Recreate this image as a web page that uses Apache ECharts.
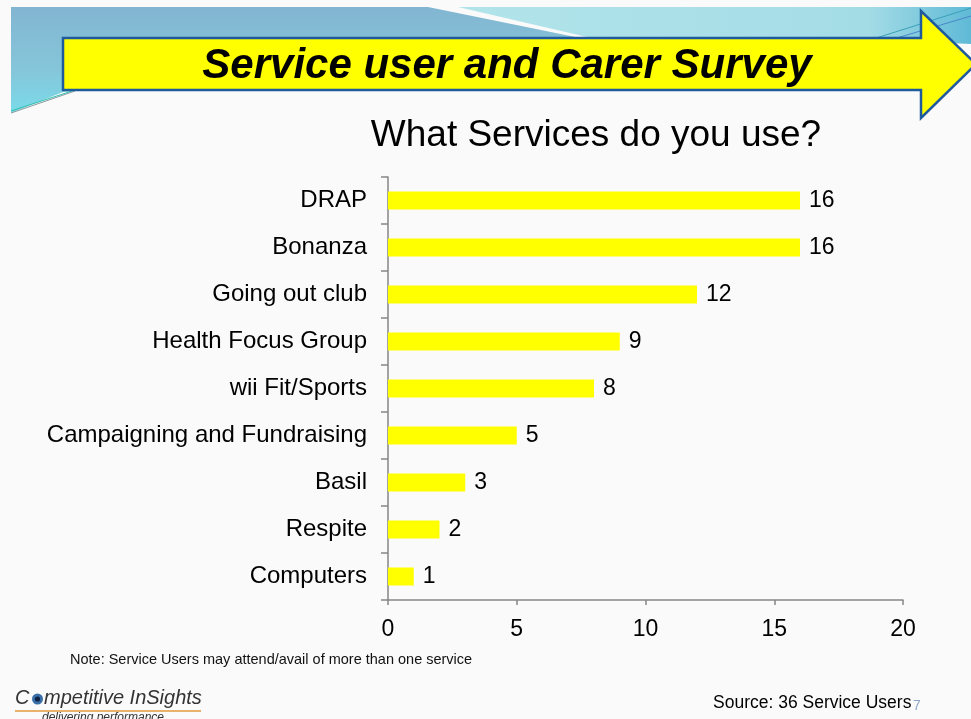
<!DOCTYPE html>
<html>
<head>
<meta charset="utf-8">
<title>What Services do you use?</title>
<script src="https://cdn.jsdelivr.net/npm/echarts@6/dist/echarts.min.js"></script>
<style>
  html, body { margin: 0; padding: 0; background: #fafafa; }
  #chart { width: 971px; height: 719px; }
</style>
</head>
<body>
<div id="chart"></div>
<script>
// Services used by respondents (count of service users)
var categories = ['DRAP', 'Bonanza', 'Going out club', 'Health Focus Group', 'wii Fit/Sports',
                  'Campaigning and Fundraising', 'Basil', 'Respite', 'Computers'];
var users = [16, 16, 12, 9, 8, 5, 3, 2, 1];
var xTicks = [0, 5, 10, 15, 20];

var FONT = "'Liberation Sans', Arial, sans-serif";

var chart = echarts.init(document.getElementById('chart'), null, { renderer: 'canvas' });

var banner = [
  // blue swoop, left part
  {
    type: 'polygon', z: 0,
    shape: { points: [[11, 7], [428, 7], [590, 40], [63, 92], [11, 113]] },
    style: {
      fill: new echarts.graphic.LinearGradient(0, 0, 0, 1, [
        { offset: 0, color: '#82b5d1' },
        { offset: 0.6, color: '#85c6da' },
        { offset: 1, color: '#79dbe9' }
      ])
    }
  },
  // lighter swoop, right part
  {
    type: 'polygon', z: 0,
    shape: { points: [[458, 7], [971, 7], [971, 44], [880, 40], [600, 40]] },
    style: {
      fill: new echarts.graphic.LinearGradient(0, 0, 1, 0, [
        { offset: 0, color: '#b2e4ea' },
        { offset: 0.8, color: '#a4dce6' },
        { offset: 1, color: '#5fbad6' }
      ])
    }
  },
  // thin streaks
  { type: 'line', z: 1, shape: { x1: 870, y1: 40, x2: 971, y2: 8 }, style: { stroke: '#3a9fb8', lineWidth: 1 } },
  { type: 'line', z: 1, shape: { x1: 890, y1: 40, x2: 971, y2: 16 }, style: { stroke: '#4a86c8', lineWidth: 1 } },
  { type: 'line', z: 1, shape: { x1: 11, y1: 113, x2: 75, y2: 91 }, style: { stroke: '#8a9aa0', lineWidth: 1 } },
  { type: 'line', z: 1, shape: { x1: 11, y1: 111, x2: 75, y2: 90 }, style: { stroke: '#2fc0b0', lineWidth: 1 } },
  // yellow arrow
  {
    type: 'polygon', z: 2,
    shape: { points: [[63, 38], [921, 38], [921, 11], [976, 64], [921, 118], [921, 90], [63, 90]] },
    style: { fill: '#ffff00', stroke: '#1f5b9c', lineWidth: 2.5, lineJoin: 'miter' }
  },
  {
    type: 'text', z: 3,
    style: {
      x: 507, y: 66, text: 'Service user and Carer Survey',
      font: 'italic bold 42px ' + FONT, fill: '#000',
      align: 'center', verticalAlign: 'middle'
    }
  }
];

var footer = [
  {
    type: 'text',
    style: {
      x: 70, y: 660, text: 'Note: Service Users may attend/avail of more than one service',
      font: '14.5px ' + FONT, fill: '#111', align: 'left', verticalAlign: 'middle'
    }
  },
  {
    type: 'text',
    style: { x: 15, y: 698, text: 'C', font: 'italic 20px ' + FONT, fill: '#333', align: 'left', verticalAlign: 'middle' }
  },
  // eye mark in the logo
  { type: 'circle', shape: { cx: 37.5, cy: 699, r: 5.5 }, style: { fill: '#3a6ea8' } },
  { type: 'circle', shape: { cx: 37.5, cy: 699, r: 2.6 }, style: { fill: '#0f2444' } },
  {
    type: 'text',
    style: { x: 44, y: 698, text: 'mpetitive InSights', font: 'italic 20px ' + FONT, fill: '#333', align: 'left', verticalAlign: 'middle' }
  },
  { type: 'line', shape: { x1: 15, y1: 711, x2: 201, y2: 711 }, style: { stroke: '#e39a3c', lineWidth: 1.5 } },
  {
    type: 'text',
    style: { x: 103, y: 718, text: 'delivering performance', font: 'italic 12px ' + FONT, fill: '#333', align: 'center', verticalAlign: 'middle' }
  },
  {
    type: 'text',
    style: { x: 713, y: 703, text: 'Source: 36 Service Users', font: '17.5px ' + FONT, fill: '#000', align: 'left', verticalAlign: 'middle' }
  },
  {
    type: 'text',
    style: { x: 913, y: 706, text: '7', font: '14px ' + FONT, fill: '#8fa8c6', align: 'left', verticalAlign: 'middle' }
  }
];

var option = {
  animation: false,
  backgroundColor: '#fafafa',
  textStyle: { fontFamily: FONT },
  title: {
    text: 'What Services do you use?',
    left: 591, top: 112, textAlign: 'center',
    textStyle: { fontSize: 37, fontWeight: 'normal', color: '#000', fontFamily: FONT }
  },
  grid: { left: 388, right: 68, top: 177, bottom: 119, containLabel: false },
  xAxis: {
    type: 'value',
    min: xTicks[0], max: xTicks[xTicks.length - 1], interval: xTicks[1] - xTicks[0],
    axisLine: { show: true, lineStyle: { color: '#868686', width: 1.5 } },
    axisTick: { show: true, length: 5, lineStyle: { color: '#868686', width: 1.5 } },
    axisLabel: { fontSize: 23, color: '#000', margin: 18, fontFamily: FONT },
    splitLine: { show: false }
  },
  yAxis: {
    type: 'category',
    inverse: true,
    data: categories,
    axisLine: { show: true, lineStyle: { color: '#868686', width: 1.5 } },
    axisTick: { show: true, length: 7, alignWithLabel: false, lineStyle: { color: '#868686', width: 1.5 } },
    axisLabel: { fontSize: 24, color: '#000', margin: 21, fontFamily: FONT }
  },
  series: [{
    type: 'bar',
    data: users,
    barWidth: 18,
    itemStyle: { color: '#ffff00' },
    label: {
      show: true, position: 'right', distance: 9,
      fontSize: 23, color: '#000', fontFamily: FONT
    }
  }],
  graphic: banner.concat(footer)
};

chart.setOption(option);
</script>
</body>
</html>
